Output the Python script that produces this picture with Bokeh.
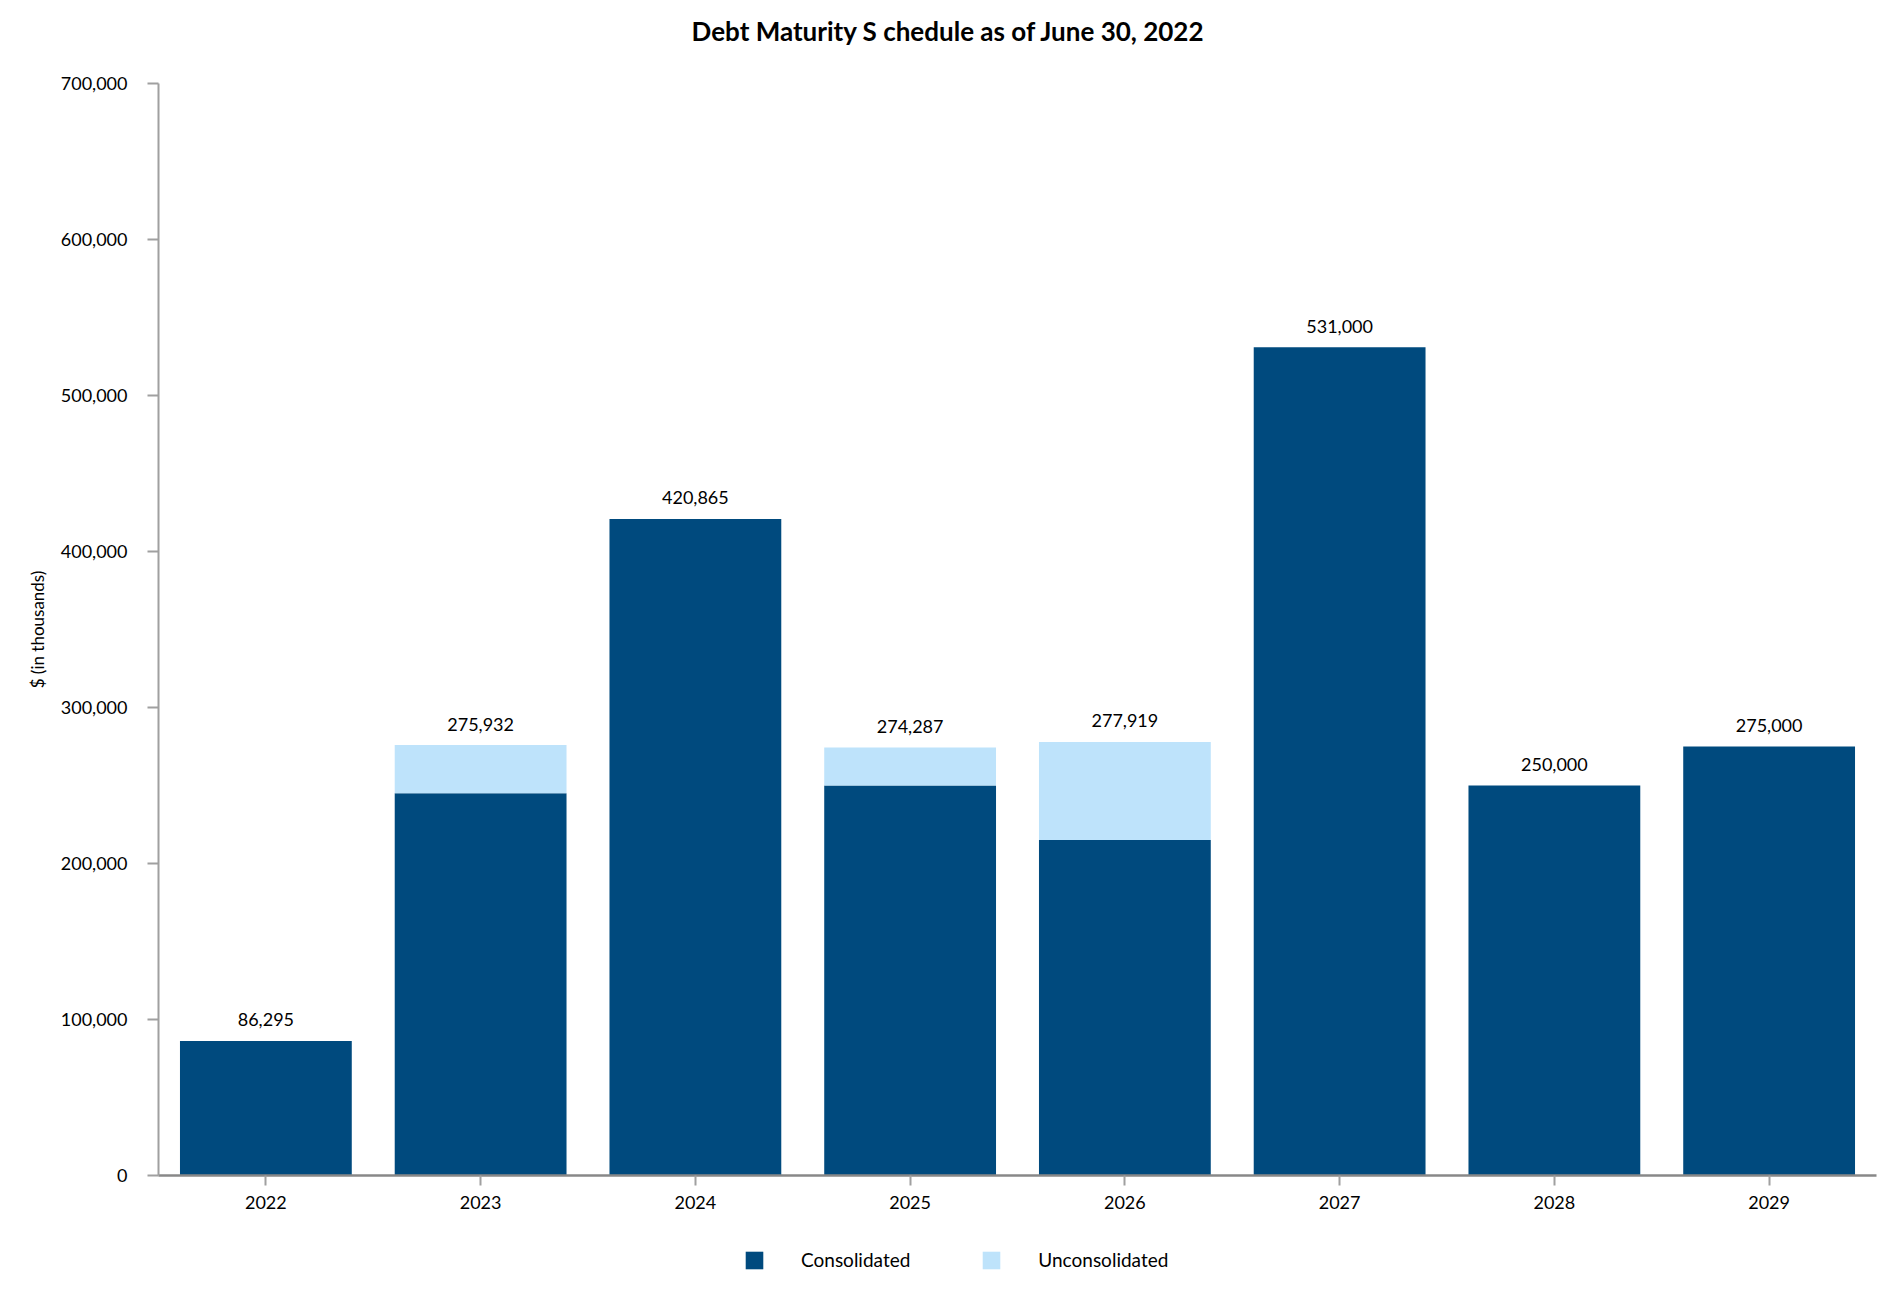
from bokeh.plotting import figure
from bokeh.layouts import column
from bokeh.models import (FactorRange, Range1d, FixedTicker, NumeralTickFormatter,
                          Legend, LegendItem, Label, ColumnDataSource)
from bokeh.core.properties import value
from bokeh.embed import file_html
from bokeh.resources import INLINE

# ---- data ----
years = ["2022", "2023", "2024", "2025", "2026", "2027", "2028", "2029"]
consolidated = [86295, 245000, 420865, 250000, 215000, 531000, 250000, 275000]
unconsolidated = [0, 30932, 0, 24287, 62919, 0, 0, 0]
series = ["Consolidated", "Unconsolidated"]
colors = ["#004a7e", "#bee3fb"]
y_ticks = [0, 100000, 200000, 300000, 400000, 500000, 600000, 700000]
title_text = "Debt Maturity S chedule as of June 30, 2022"
y_label = "$ (in thousands)"

totals = [c + u for c, u in zip(consolidated, unconsolidated)]
total_labels = [f"{t:,}" for t in totals]

FONT = "Lato"
W = 1882


def bare(fig):
    fig.axis.visible = False
    fig.grid.visible = False
    fig.outline_line_color = None
    fig.min_border = 0
    fig.frame_align = False
    return fig


# ---- title strip ----
TH = 70
pt = bare(figure(width=W, height=TH, x_range=Range1d(0, W), y_range=Range1d(0, TH),
                 output_backend="svg", toolbar_location=None, tools=""))
pt.add_layout(Label(x=948, y=TH - 30, text=title_text, text_align="center",
                    text_baseline="middle", text_font=FONT, text_font_size="26px",
                    text_font_style="bold", text_color="#000000"))

# ---- main chart ----
src = ColumnDataSource(dict(year=years, Consolidated=consolidated,
                            Unconsolidated=unconsolidated,
                            total=totals, label=total_labels))

p = figure(width=W, height=1155, x_range=FactorRange(factors=years),
           y_range=Range1d(0, 700000), output_backend="svg",
           toolbar_location=None, tools="")
p.frame_align = False
p.min_border_left = 158
p.min_border_right = 6
p.min_border_top = 13
p.min_border_bottom = 50
p.outline_line_color = None
p.grid.visible = False

p.vbar_stack(series, x="year", width=0.8, color=colors, line_color=None, source=src)

p.text(x="year", y="total", text="label", source=src, text_align="center",
       text_baseline="middle", y_offset=-21, text_font=value(FONT),
       text_font_size="18px", text_color="#000000")

p.yaxis.ticker = FixedTicker(ticks=y_ticks)
p.yaxis.formatter = NumeralTickFormatter(format="0,0")
p.yaxis.major_label_text_font = FONT
p.yaxis.major_label_text_font_size = "18px"
p.yaxis.major_label_text_color = "#000000"
p.yaxis.major_label_standoff = 20
p.yaxis.major_tick_out = 11
p.yaxis.major_tick_in = 0
p.yaxis.minor_tick_out = 0
p.yaxis.minor_tick_in = 0
p.yaxis.axis_line_color = "#a0a0a0"
p.yaxis.axis_line_width = 2
p.yaxis.major_tick_line_color = "#a0a0a0"
p.yaxis.major_tick_line_width = 2
p.yaxis.axis_label = y_label
p.yaxis.axis_label_text_font = FONT
p.yaxis.axis_label_text_font_size = "17px"
p.yaxis.axis_label_text_font_style = "normal"
p.yaxis.axis_label_text_color = "#000000"
p.yaxis.axis_label_standoff = 10

p.xaxis.major_label_text_font = FONT
p.xaxis.major_label_text_font_size = "18px"
p.xaxis.major_label_text_color = "#000000"
p.xaxis.major_label_standoff = 10
p.xaxis.major_tick_out = 10
p.xaxis.major_tick_in = 0
p.xaxis.axis_line_color = "#888888"
p.xaxis.axis_line_width = 2.5
p.xaxis.major_tick_line_color = "#a0a0a0"
p.xaxis.major_tick_line_width = 2

# ---- legend strip ----
LH = 70
pl = bare(figure(width=W, height=LH, x_range=Range1d(0, 1), y_range=Range1d(0, 1),
                 output_backend="svg", toolbar_location=None, tools=""))
# legend proxies (kept outside the visible range; only their swatches are shown)
swatches = [pl.vbar(x=[-5], top=[-5], bottom=[-6], width=0.1, color=c, line_color=None)
            for c in colors]
legend = Legend(items=[LegendItem(label=s, renderers=[r]) for s, r in zip(series, swatches)],
                orientation="horizontal", location=(743, 24),
                glyph_width=22, glyph_height=22, label_standoff=36, spacing=70,
                padding=0, margin=0, border_line_color=None,
                background_fill_alpha=0, label_text_font=FONT,
                label_text_font_size="19px", label_text_color="#000000")
pl.add_layout(legend, "center")

layout = column(pt, p, pl, spacing=0)
open("out.html", "w").write(file_html(layout, INLINE))
